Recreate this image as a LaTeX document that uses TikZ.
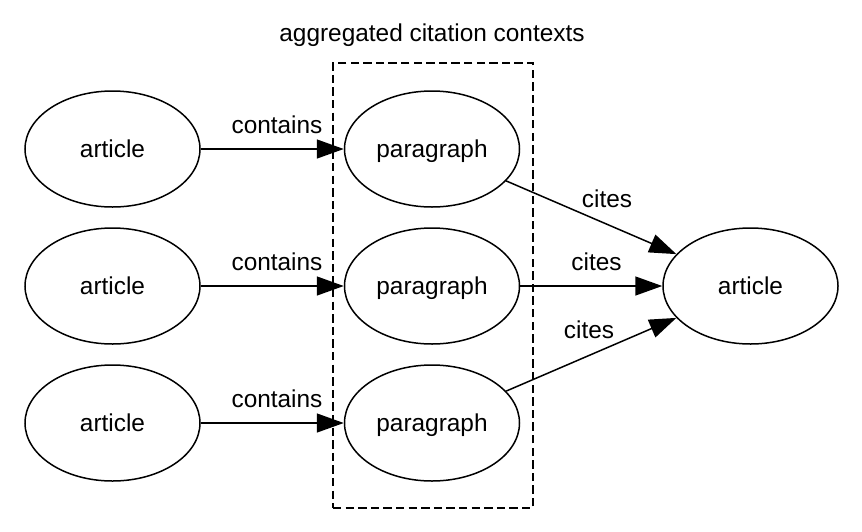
\documentclass[tikz,border=0pt]{standalone}
\usepackage{fontspec}
\setmainfont{Liberation Sans}
\usetikzlibrary{arrows.meta,shapes.geometric}
\begin{document}
\begin{tikzpicture}[x=0.5pt,y=-0.5pt,
  ent/.style={ellipse,draw,line width=0.75pt,minimum width=87.5pt,minimum height=58pt,inner sep=0pt,text height=10pt,text depth=2pt,font=\fontsize{12.2}{14}\selectfont},
  lbl/.style={anchor=base,inner sep=0pt,font=\fontsize{12.2}{14}\selectfont},
  rel/.style={line width=0.75pt,-{Triangle[length=13.5pt,width=9.5pt]}},
  grp/.style={draw,line width=0.75pt,dash pattern=on 4.2pt off 2.1pt}]
\useasboundingbox (0,0) rectangle (862,531);
\node[grp,minimum width=100pt,minimum height=222.5pt,inner sep=0pt] (box) at (433,285.5) {};
\node[lbl] (title) at (432,41) {aggregated citation contexts};
\node[ent] (a1) at (112.5,149) {article};
\node[ent] (a2) at (112.5,286) {article};
\node[ent] (a3) at (112.5,423) {article};
\node[ent] (p1) at (432,149) {paragraph};
\node[ent] (p2) at (432,286) {paragraph};
\node[ent] (p3) at (432,423) {paragraph};
\node[ent] (t) at (750.5,286) {article};
\draw[rel] (a1) -- (p1);
\draw[rel] (a2) -- (p2);
\draw[rel] (a3) -- (p3);
\draw[rel] (p1) -- (t);
\draw[rel] (p2) -- (t);
\draw[rel] (p3) -- (t);
\node[lbl] (c1) at (277,133) {contains};
\node[lbl] (c2) at (277,270) {contains};
\node[lbl] (c3) at (277,407) {contains};
\node[lbl] (k1) at (607,207) {cites};
\node[lbl] (k2) at (596.5,270) {cites};
\node[lbl] (k3) at (589,338) {cites};
\end{tikzpicture}
\end{document}
